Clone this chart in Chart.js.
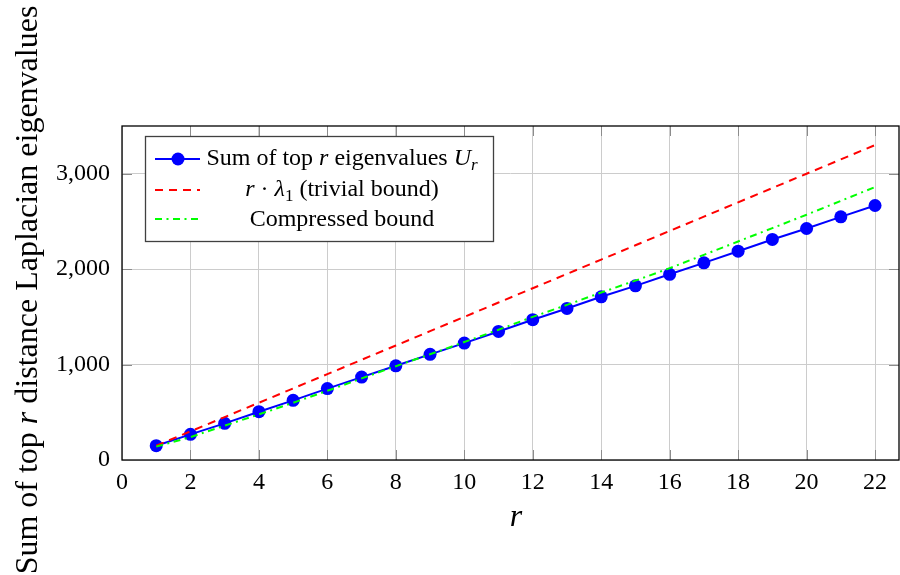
<!DOCTYPE html>
<html>
<head>
<meta charset="utf-8">
<script src="https://cdn.jsdelivr.net/npm/chart.js@4.4.1/dist/chart.umd.min.js"></script>
<style>
  html, body { margin: 0; padding: 0; background: #fff; }
  #wrap { width: 900px; height: 575px; }
</style>
</head>
<body>
<div id="wrap"><canvas id="chart" width="900" height="575"></canvas></div>
<script>
// --- data
const rValues = [1, 2, 3, 4, 5, 6, 7, 8, 9, 10, 11, 12, 13, 14, 15, 16, 17, 18, 19, 20, 21, 22];
const sumTopR = [150, 269, 384, 506, 625, 748, 869, 987, 1107, 1225, 1347, 1470,
  1588, 1710, 1825, 1946, 2066, 2188, 2311, 2426, 2548, 2667];
const trivialBound = [150, 300, 450, 600, 750, 900, 1050, 1200, 1350, 1500, 1650, 1800,
  1950, 2100, 2250, 2400, 2550, 2700, 2850, 3000, 3150, 3300];
const compressedBound = [140, 240, 360, 478, 600, 725, 855, 983, 1108, 1236, 1365, 1500,
  1625, 1755, 1880, 2010, 2150, 2290, 2430, 2570, 2715, 2860];
const xTicks = [0, 2, 4, 6, 8, 10, 12, 14, 16, 18, 20, 22];
const yTicks = [0, 1000, 2000, 3000];

const SERIF = '"Liberation Serif", "Times New Roman", serif';
const toPoints = (ys) => rValues.map((r, i) => ({ x: r, y: ys[i] }));

// mixed italic / subscript text, centred on cx
function drawRich(ctx, parts, cx, y, size) {
  const fontOf = p => `${p.it ? "italic " : ""}${p.sub ? Math.round(size * 0.7) : size}px ${SERIF}`;
  let total = 0;
  parts.forEach(p => { ctx.font = fontOf(p); p.w = ctx.measureText(p.t).width; total += p.w; });
  let x = cx - total / 2;
  ctx.textAlign = "left";
  ctx.textBaseline = "alphabetic";
  parts.forEach(p => {
    ctx.font = fontOf(p);
    ctx.fillText(p.t, x, y + (p.sub ? size * 0.2 : 0));
    x += p.w;
  });
}

/* === frame, inner ticks, axis titles, legend */
const decorPlugin = {
  id: "decor",
  afterDraw(chart) {
    const ctx = chart.ctx;
    const { left, right, top, bottom } = chart.chartArea;
    const xs = chart.scales.x, ys = chart.scales.y;
    ctx.save();

    // inner tick marks on all four sides
    ctx.strokeStyle = "#8c8c8c";
    ctx.lineWidth = 1;
    const tl = 10;
    xTicks.slice(1).forEach(v => {
      const px = Math.round(xs.getPixelForValue(v)) + 0.5;
      ctx.beginPath();
      ctx.moveTo(px, bottom); ctx.lineTo(px, bottom - tl);
      ctx.moveTo(px, top); ctx.lineTo(px, top + tl);
      ctx.stroke();
    });
    yTicks.slice(1).forEach(v => {
      const py = Math.round(ys.getPixelForValue(v)) + 0.5;
      ctx.beginPath();
      ctx.moveTo(left, py); ctx.lineTo(left + tl, py);
      ctx.moveTo(right, py); ctx.lineTo(right - tl, py);
      ctx.stroke();
    });

    // frame
    ctx.strokeStyle = "#000";
    ctx.lineWidth = 1.3;
    ctx.strokeRect(left, top, right - left, bottom - top);

    // axis titles
    ctx.fillStyle = "#000";
    drawRich(ctx, [{ t: "r", it: true }], 516, 526, 32);
    ctx.save();
    ctx.translate(37, 290);
    ctx.rotate(-Math.PI / 2);
    drawRich(ctx, [
      { t: "Sum of top " }, { t: "r", it: true }, { t: " distance Laplacian eigenvalues" }
    ], 0, 0, 32);
    ctx.restore();

    // legend
    const lx = 145, ly = 136, lw = 348, lh = 105;
    ctx.fillStyle = "#fff";
    ctx.fillRect(lx, ly, lw, lh);
    ctx.strokeStyle = "#404040";
    ctx.lineWidth = 1.3;
    ctx.strokeRect(lx + 0.5, ly + 0.5, lw, lh);

    const rows = [
      { y: 159, base: 165, color: "#0000ff", dash: [], marker: true,
        parts: [{ t: "Sum of top " }, { t: "r", it: true }, { t: " eigenvalues " },
                { t: "U", it: true }, { t: "r", it: true, sub: true }] },
      { y: 190, base: 196, color: "#ff0000", dash: [8, 6], marker: false,
        parts: [{ t: "r", it: true }, { t: " · " }, { t: "λ", it: true },
                { t: "1", sub: true }, { t: " (trivial bound)" }] },
      { y: 219, base: 226, color: "#00ff00", dash: [7, 4.5, 2, 4.5], marker: false,
        parts: [{ t: "Compressed bound" }] }
    ];
    rows.forEach(row => {
      ctx.strokeStyle = row.color;
      ctx.lineWidth = 2;
      ctx.setLineDash(row.dash);
      ctx.beginPath();
      ctx.moveTo(155, row.y); ctx.lineTo(200, row.y);
      ctx.stroke();
      ctx.setLineDash([]);
      if (row.marker) {
        ctx.fillStyle = row.color;
        ctx.beginPath();
        ctx.arc(178, row.y, 6.5, 0, Math.PI * 2);
        ctx.fill();
      }
      ctx.fillStyle = "#000";
      drawRich(ctx, row.parts, 342, row.base, 24);
    });

    ctx.restore();
  }
};

new Chart(document.getElementById("chart"), {
  type: "line",
  data: {
    datasets: [
      {
        label: "Sum of top r eigenvalues U_r",
        data: toPoints(sumTopR),
        borderColor: "#0000ff",
        backgroundColor: "#0000ff",
        borderWidth: 2,
        pointRadius: 6.5,
        pointBorderWidth: 0,
        pointBackgroundColor: "#0000ff",
        tension: 0,
        order: 2
      },
      {
        label: "r · λ1 (trivial bound)",
        data: toPoints(trivialBound),
        borderColor: "#ff0000",
        borderWidth: 2,
        borderDash: [8, 6],
        pointRadius: 0,
        tension: 0,
        order: 1
      },
      {
        label: "Compressed bound",
        data: toPoints(compressedBound),
        borderColor: "#00ff00",
        borderWidth: 2,
        borderDash: [7, 4.5, 2, 4.5],
        pointRadius: 0,
        tension: 0,
        order: 0
      }
    ]
  },
  options: {
    responsive: false,
    animation: false,
    devicePixelRatio: 1,
    locale: "en-US",
    layout: { autoPadding: false, padding: { top: 126, right: 1, left: 0, bottom: 0 } },
    plugins: { legend: { display: false }, tooltip: { enabled: false } },
    scales: {
      x: {
        type: "linear",
        min: 0,
        max: 22.7,
        afterBuildTicks: s => { s.ticks = xTicks.map(v => ({ value: v })); },
        afterFit: s => { s.height = 115; s.paddingLeft = 0; s.paddingRight = 0; },
        grid: { color: "#cccccc", lineWidth: 1, drawTicks: false },
        border: { display: false },
        ticks: {
          includeBounds: false,
          padding: 8,
          color: "#000",
          font: { family: SERIF, size: 24 },
          maxRotation: 0,
          autoSkip: false
        }
      },
      y: {
        min: 0,
        max: 3500,
        afterBuildTicks: s => { s.ticks = yTicks.map(v => ({ value: v })); },
        afterFit: s => { s.width = 122; s.paddingTop = 0; s.paddingBottom = 0; },
        grid: { color: "#cccccc", lineWidth: 1, drawTicks: false },
        border: { display: false },
        ticks: {
          includeBounds: false,
          padding: 12,
          color: "#000",
          font: { family: SERIF, size: 24 },
          callback: v => v.toLocaleString("en-US")
        }
      }
    }
  },
  plugins: [decorPlugin]
});
</script>
</body>
</html>
